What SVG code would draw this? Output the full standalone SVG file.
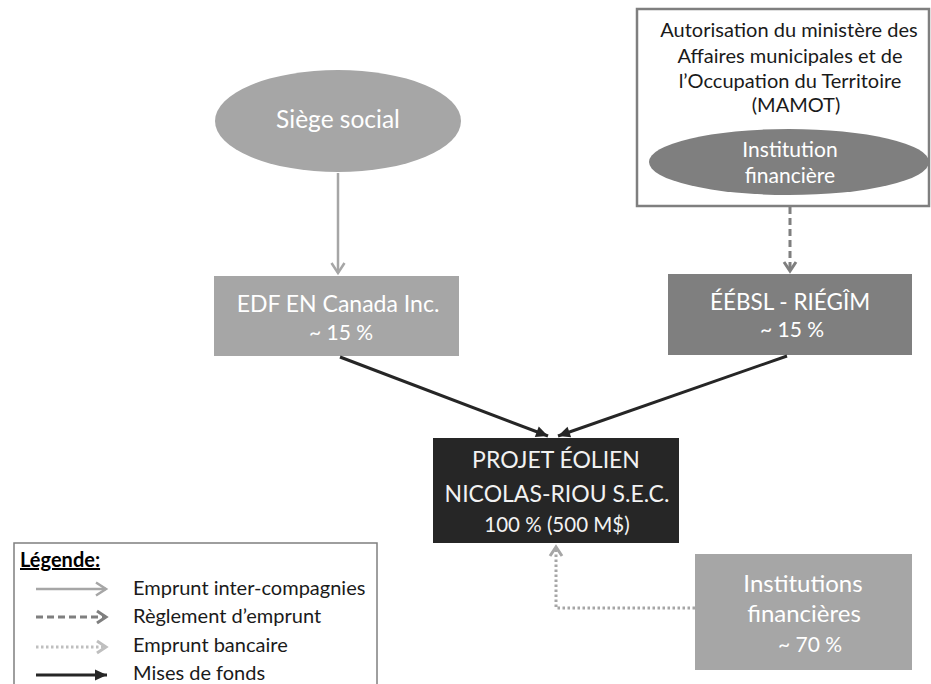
<svg xmlns="http://www.w3.org/2000/svg" width="931" height="684" viewBox="0 0 931 684">
<style>
text{font-family:Lato,"Open Sans","Liberation Sans",sans-serif;text-anchor:middle}
.w{fill:#ffffff}
.lg{font-size:24px}
.sm{font-size:21px}
.leg{font-size:20px;text-anchor:start;fill:#1a1a1a}
.c1{stroke:#a6a6a6;stroke-width:2.5;fill:none}
.c2{stroke:#7f7f7f;stroke-width:3;fill:none;stroke-dasharray:7 4}
.c3{stroke:#a6a6a6;stroke-width:3;fill:none;stroke-dasharray:2.5 2.5}
.c3l{stroke:#bfbfbf;stroke-width:3;fill:none;stroke-dasharray:2.5 2.5}
.c4{stroke:#262626;stroke-width:3;fill:none}
</style>
<defs>
<marker id="h1" markerUnits="userSpaceOnUse" markerWidth="16" markerHeight="16" viewBox="0 0 16 16" refX="13" refY="8" orient="auto"><path d="M3,1.5 L13,8 L3,14.5" fill="none" stroke="#a6a6a6" stroke-width="2.5"/></marker>
<marker id="h2" markerUnits="userSpaceOnUse" markerWidth="16" markerHeight="16" viewBox="0 0 16 16" refX="13" refY="8" orient="auto"><path d="M4,2 L13,8 L4,14" fill="none" stroke="#7f7f7f" stroke-width="3"/></marker>
<marker id="h3" markerUnits="userSpaceOnUse" markerWidth="16" markerHeight="16" viewBox="0 0 16 16" refX="13" refY="8" orient="auto"><path d="M4,2 L13,8 L4,14" fill="none" stroke="#a6a6a6" stroke-width="3"/></marker>
<marker id="h3l" markerUnits="userSpaceOnUse" markerWidth="16" markerHeight="16" viewBox="0 0 16 16" refX="13" refY="8" orient="auto"><path d="M4,2 L13,8 L4,14" fill="none" stroke="#bfbfbf" stroke-width="3"/></marker>
<marker id="h4" markerUnits="userSpaceOnUse" markerWidth="14" markerHeight="14" viewBox="0 0 14 14" refX="13" refY="7" orient="auto"><path d="M1,1.5 L13,7 L1,12.5 Z" fill="#262626"/></marker>
</defs>

<g id="mamot">
<rect x="637" y="9" width="292" height="197" fill="#ffffff" stroke="#7f7f7f" stroke-width="2.5"/>
<text x="789" y="37" font-size="20" fill="#1a1a1a">Autorisation du ministère des</text>
<text x="790" y="63" font-size="20" fill="#1a1a1a">Affaires municipales et de</text>
<text x="790" y="88" font-size="20" fill="#1a1a1a">l’Occupation du Territoire</text>
<text x="796" y="112" font-size="20" fill="#1a1a1a">(MAMOT)</text>
</g>
<g id="institution">
<ellipse cx="789" cy="162" rx="140" ry="33" fill="#7f7f7f"/>
<text x="790" y="157" class="w sm">Institution</text>
<text x="790" y="183" class="w sm">financière</text>
</g>
<g id="siege">
<ellipse cx="338" cy="121" rx="123" ry="51" fill="#a6a6a6"/>
<text x="338" y="128" class="w" font-size="24.5">Siège social</text>
</g>
<g id="edf">
<rect x="214" y="276" width="245" height="80" fill="#a6a6a6"/>
<text x="338" y="312" class="w" font-size="23">EDF EN Canada Inc.</text>
<text x="341" y="340" class="w sm">~ 15 %</text>
</g>
<g id="eebsl">
<rect x="668" y="274" width="244" height="81" fill="#7f7f7f"/>
<text x="790" y="310" class="w" font-size="22.5">ÉÉBSL - RIÉGÎM</text>
<text x="792" y="337" class="w sm">~ 15 %</text>
</g>
<g id="projet">
<rect x="433" y="438" width="246" height="105" fill="#262626"/>
<text x="556" y="468" font-size="23" fill="#f2f2f2">PROJET ÉOLIEN</text>
<text x="557" y="502" font-size="23" fill="#f2f2f2">NICOLAS-RIOU S.E.C.</text>
<text x="557" y="532" font-size="20.5" fill="#f2f2f2">100 % (500 M$)</text>
</g>
<g id="institutions">
<rect x="695" y="554" width="217" height="116" fill="#a6a6a6"/>
<text x="803" y="592" class="w lg">Institutions</text>
<text x="804" y="622" class="w lg">financières</text>
<text x="810" y="652" class="w sm">~ 70 %</text>
</g>

<g id="connectors">
<line x1="338" y1="173" x2="338" y2="273" class="c1" marker-end="url(#h1)"/>
<line x1="790" y1="207" x2="790" y2="271" class="c2" marker-end="url(#h2)"/>
<line x1="340" y1="357" x2="548" y2="436" class="c4" marker-end="url(#h4)"/>
<line x1="787" y1="356" x2="558" y2="436" class="c4" marker-end="url(#h4)"/>
<polyline points="695,608 556,608 556,547" class="c3" marker-end="url(#h3)"/>
</g>

<g id="legende">
<rect x="14" y="543" width="363" height="160" fill="none" stroke="#7f7f7f" stroke-width="1.5"/>
<text x="20" y="567" font-size="20" font-weight="bold" text-decoration="underline" style="text-anchor:start" fill="#000000">Légende:</text>
<line x1="36" y1="589" x2="106" y2="589" class="c1" marker-end="url(#h1)"/>
<text x="133" y="595" class="leg">Emprunt inter-compagnies</text>
<line x1="36" y1="617" x2="106" y2="617" class="c2" marker-end="url(#h2)"/>
<text x="133" y="623" class="leg">Règlement d’emprunt</text>
<line x1="36" y1="647" x2="106" y2="647" class="c3l" marker-end="url(#h3l)"/>
<text x="133" y="652" class="leg">Emprunt bancaire</text>
<line x1="36" y1="675" x2="107" y2="675" class="c4" marker-end="url(#h4)"/>
<text x="133" y="680" class="leg">Mises de fonds</text>
</g>
</svg>
